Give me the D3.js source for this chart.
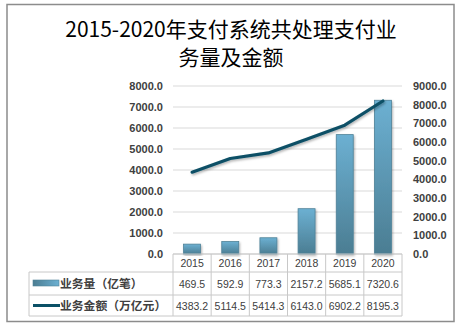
<!DOCTYPE html>
<html><head><meta charset="utf-8">
<script src="https://cdn.jsdelivr.net/npm/d3@7"></script>
<style>body{margin:0;background:#fff}svg{display:block}</style>
</head><body><svg id="c" width="461" height="325"></svg>
<script>
const years = ["2015","2016","2017","2018","2019","2020"];
const volume = [469.5, 592.9, 773.3, 2157.2, 5685.1, 7320.6];
const amount = [4383.2, 5114.5, 5414.3, 6143.0, 6902.2, 8195.3];
const leftTicks = [0,1000,2000,3000,4000,5000,6000,7000,8000];
const rightTicks = [0,1000,2000,3000,4000,5000,6000,7000,8000,9000];
const seriesNames = ["业务量（亿笔）","业务金额（万亿元）"];
const titleLines = ["2015-2020年支付系统共处理支付业","务量及金额"];

const svg = d3.select("#c");
const L = 173, R = 402, T = 86, B = 254;
const txt = "#404040", grid = "#d9d9d9", tbl = "#c8c8c8";

svg.append("rect").attr("x",7).attr("y",4.5).attr("width",447).attr("height",317)
  .attr("fill","#fff").attr("stroke","#8c8c8c").attr("stroke-width",1.5);

const defs = svg.append("defs");
const g1 = defs.append("linearGradient").attr("id","barg").attr("x1",0).attr("y1",0).attr("x2",0).attr("y2",1);
g1.append("stop").attr("offset","0%").attr("stop-color","#6cb0d2");
g1.append("stop").attr("offset","100%").attr("stop-color","#4b7d92");
const g2 = defs.append("linearGradient").attr("id","legg").attr("x1",0).attr("y1",0).attr("x2",1).attr("y2",0);
g2.append("stop").attr("offset","0%").attr("stop-color","#4b7d92");
g2.append("stop").attr("offset","100%").attr("stop-color","#6cb0d2");
const f = defs.append("filter").attr("id","sh").attr("x","-20%").attr("y","-20%").attr("width","140%").attr("height","140%");
f.append("feDropShadow").attr("dx",1).attr("dy",1.5).attr("stdDeviation",1).attr("flood-color","#000").attr("flood-opacity",0.3);

// title
svg.append("text").attr("text-anchor","middle").attr("font-family","'Noto Sans CJK SC'").attr("font-size",21)
  .attr("fill","#000").selectAll("tspan").data(titleLines).join("tspan")
  .attr("x",231).attr("y",(d,i)=>37+i*28).text(d=>d);

const x = d3.scaleBand().domain(years).range([L,R]).padding(0);
const xb = d3.scaleBand().domain(years).range([L,R]).paddingInner(0.555).paddingOuter(0.2775);
const yL = d3.scaleLinear().domain([0,8000]).range([B,T]);
const yR = d3.scaleLinear().domain([0,9000]).range([B,T]);

// gridlines
svg.append("g").selectAll("line").data(leftTicks).join("line")
  .attr("x1",L).attr("x2",R).attr("y1",d=>yL(d)).attr("y2",d=>yL(d))
  .attr("stroke",grid).attr("stroke-width",1);

// left axis
const axL = svg.append("g").attr("transform",`translate(${L},0)`)
  .call(d3.axisLeft(yL).tickValues(leftTicks).tickFormat(d3.format(".1f")).tickSize(0).tickPadding(10));
axL.select(".domain").remove();
axL.selectAll("text").attr("font-family","'Liberation Sans',Arial").attr("font-size",11).attr("font-weight","bold").attr("fill",txt);

const axR = svg.append("g").attr("transform",`translate(${R},0)`)
  .call(d3.axisRight(yR).tickValues(rightTicks).tickFormat(d3.format(".1f")).tickSize(0).tickPadding(11));
axR.select(".domain").remove();
axR.selectAll("text").attr("font-family","'Liberation Sans',Arial").attr("font-size",11).attr("font-weight","bold").attr("fill",txt);

// bars
svg.append("g").selectAll("rect").data(volume).join("rect")
  .attr("x",(d,i)=>xb(years[i])).attr("width",xb.bandwidth())
  .attr("y",d=>yL(d)).attr("height",d=>B-yL(d))
  .attr("fill","url(#barg)").attr("stroke","#4f8298").attr("stroke-width",0.8).attr("filter","url(#sh)");

// line
const line = d3.line().x((d,i)=>x(years[i])+x.bandwidth()/2).y(d=>yR(d));
svg.append("path").datum(amount).attr("d",line).attr("fill","none")
  .attr("stroke","#0b5066").attr("stroke-width",3.2).attr("stroke-linecap","round").attr("stroke-linejoin","round")
  .attr("filter","url(#sh)");

// table
const rowY = [254, 272, 295, 316];
const tg = svg.append("g").attr("stroke",tbl).attr("stroke-width",1);
tg.append("line").attr("x1",L).attr("x2",R).attr("y1",B).attr("y2",B);
[1,2,3].forEach(k=>tg.append("line").attr("x1",29).attr("x2",R).attr("y1",rowY[k]).attr("y2",rowY[k]));
tg.append("line").attr("x1",29).attr("x2",29).attr("y1",rowY[1]).attr("y2",rowY[3]);
tg.selectAll("line.v").data(years.concat(["end"])).join("line").attr("class","v")
  .attr("x1",(d,i)=>i<6?x(d):R).attr("x2",(d,i)=>i<6?x(d):R).attr("y1",B).attr("y2",rowY[3]);

const cellFont = "'Liberation Sans',Arial";
svg.append("g").selectAll("text").data(years).join("text")
  .attr("x",d=>x(d)+x.bandwidth()/2).attr("y",(rowY[0]+rowY[1])/2+4).attr("text-anchor","middle")
  .attr("font-family",cellFont).attr("font-size",10.5).attr("fill",txt).text(d=>d);
[volume, amount].forEach((arr,r)=>{
  svg.append("g").selectAll("text").data(arr).join("text")
    .attr("x",(d,i)=>x(years[i])+x.bandwidth()/2).attr("y",(rowY[r+1]+rowY[r+2])/2+4).attr("text-anchor","middle")
    .attr("font-family",cellFont).attr("font-size",10.5).attr("fill",txt).text(d=>d.toFixed(1));
});

// legend keys
svg.append("rect").attr("x",33).attr("y",280).attr("width",26).attr("height",6)
  .attr("fill","url(#legg)").attr("stroke","#4f8298").attr("stroke-width",0.6);
svg.append("line").attr("x1",33).attr("x2",60).attr("y1",305.5).attr("y2",305.5)
  .attr("stroke","#0b5066").attr("stroke-width",3);
svg.append("g").selectAll("text").data(seriesNames).join("text")
  .attr("x",60).attr("y",(d,i)=>(rowY[i+1]+rowY[i+2])/2+4.5)
  .attr("font-family","'Noto Sans CJK SC'").attr("font-size",11.8).attr("font-weight","bold").attr("fill",txt).text(d=>d);
</script></body></html>
